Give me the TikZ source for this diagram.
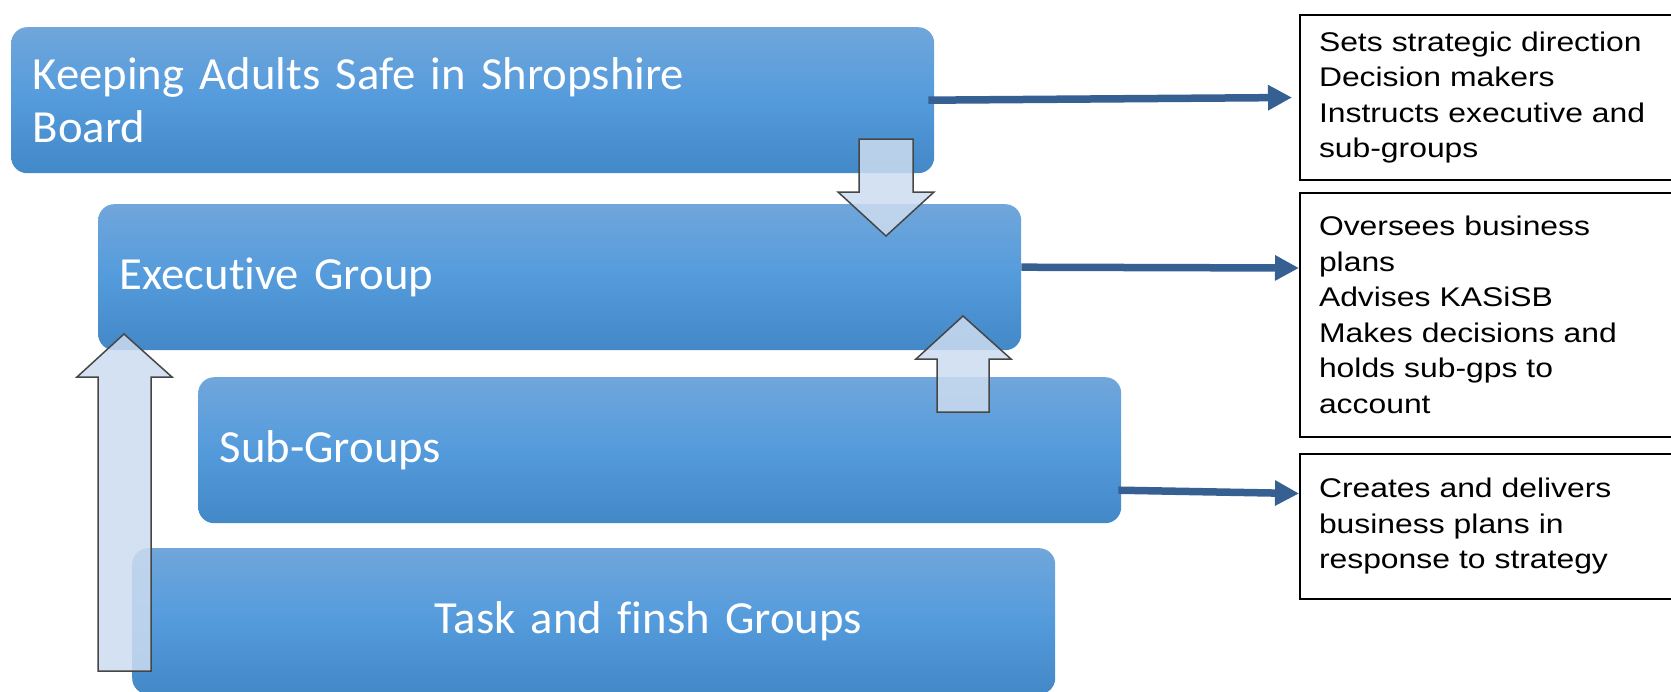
\documentclass[tikz,border=0pt]{standalone}
\usepackage{fontspec}
\usepackage{tikz}
\usetikzlibrary{positioning,arrows.meta}

\newfontfamily\tierfont[FakeStretch=1.015,Ligatures=NoCommon]{Carlito}
\newfontfamily\rolefont[FakeStretch=1.18]{Liberation Sans}

\definecolor{tiertop}{RGB}{112,166,219}
\definecolor{tiermid}{RGB}{84,155,220}
\definecolor{tierbot}{RGB}{67,136,199}
\definecolor{linkblue}{RGB}{54,96,146}
\definecolor{liftfill}{RGB}{205,220,240}
\definecolor{liftline}{RGB}{70,70,70}

\begin{document}
\begin{tikzpicture}[x=1pt,y=-1pt,
		tier/.style={rectangle, rounded corners=16pt, minimum width=923pt, minimum height=146pt, top color=tiertop, bottom color=tierbot, middle color=tiermid, text=white, font=\tierfont\fontsize{46}{53}\selectfont, align=left, text width=880pt, inner xsep=21pt, inner ysep=0pt, anchor=north west},
		role/.style={rectangle, draw=black, line width=2pt, fill=white, text width=380pt, inner xsep=19pt, align=left, font=\rolefont\fontsize{27}{35.5}\selectfont, anchor=north west},
		link/.style={-{Triangle[length=24pt,width=24pt]}, draw=linkblue, line width=7.5pt},
		lift/.style={fill=liftfill, fill opacity=0.85, draw=liftline, line width=1.5pt, line join=miter}]
		\useasboundingbox (0,0) rectangle (1671,691);
		
		% the four tiers
		\node [tier] (board) at (11,27) {Keeping Adults Safe in Shropshire\\Board};
		\node [tier] (exec) at (98,204) {Executive Group};
		\node [tier] (subgrp) at (198,377) {Sub-Groups};
		\node [tier] (task) at (132,548) {\hspace*{281pt}Task and finsh Groups};
		
		% what each tier does
		\node [role, minimum height=165pt] (steer) at (1299,14) {Sets strategic direction\\Decision makers\\Instructs executive and\\sub-groups};
		\node [role, minimum height=244pt] (oversee) at (1299,192) {Oversees business\\plans\\Advises KASiSB\\Makes decisions and\\holds sub-gps to\\account};
		\node [role, minimum height=145pt] (deliver) at (1299,453) {Creates and delivers\\business plans in\\response to strategy};
		
		\draw[link] ([xshift=-6pt]board.east) -- ([xshift=-7pt]steer.west);
		\draw[link] ([yshift=10pt]exec.east) -- ([yshift=47pt]oversee.west);
		\draw[link] ([xshift=-3pt,yshift=-40pt]subgrp.east) -- ([yshift=33pt]deliver.west);
		
		% block arrows between tiers
		\draw[lift] (859,139) -- (913,139) -- (913,192) -- (934,192) -- (886,236) -- (838,192) -- (859,192) -- cycle;
		\draw[lift] (937,412) -- (989,412) -- (989,359) -- (1011,359) -- (963,316) -- (916,359) -- (937,359) -- cycle;
		\draw[lift] (98,671) -- (151,671) -- (151,377) -- (172,377) -- (124,334) -- (77,377) -- (98,377) -- cycle;
	\end{tikzpicture}
\end{document}
